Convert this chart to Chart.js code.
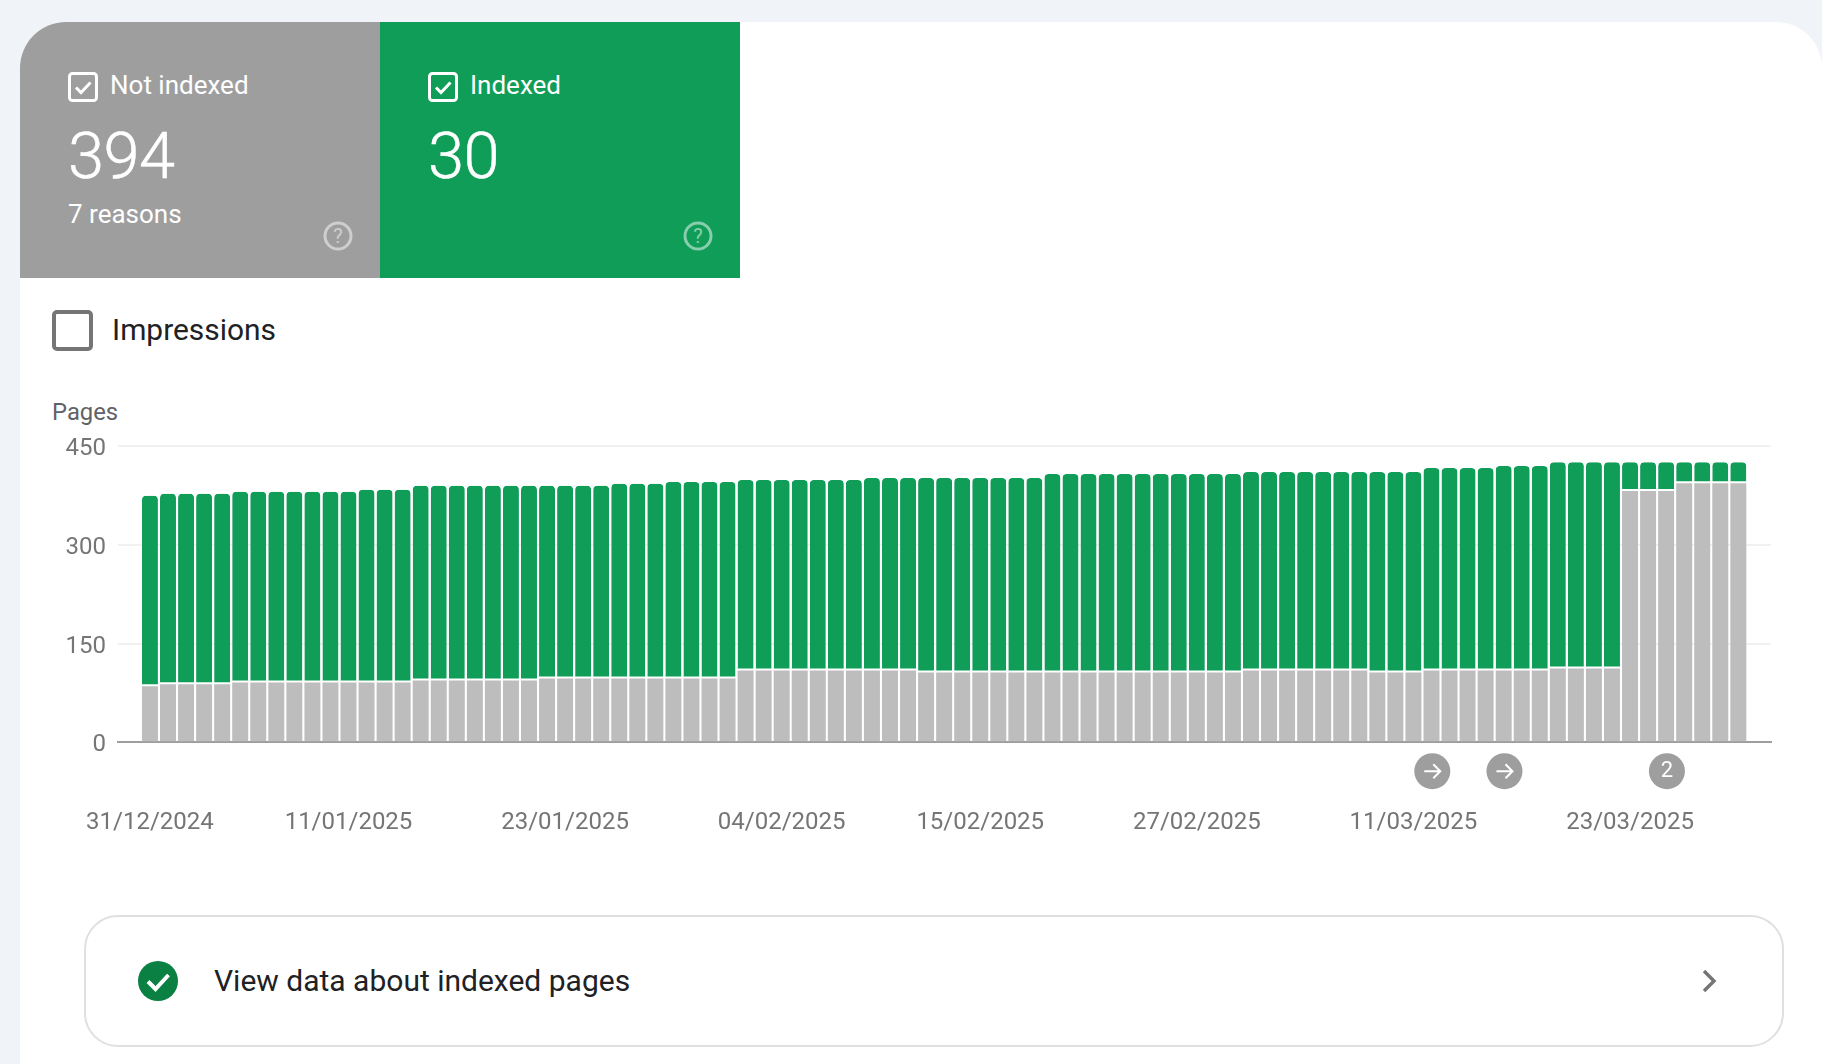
<!DOCTYPE html>
<html>
<head>
<meta charset="utf-8">
<title>Page indexing</title>
<script src="https://cdn.jsdelivr.net/npm/chart.js@4"></script>
<style>
  html, body { margin: 0; padding: 0; width: 1822px; height: 1064px; overflow: hidden; background: #f0f4f9; font-family: Roboto, sans-serif; }
  .sheet { position: absolute; left: 20px; top: 22px; width: 1802px; height: 1042px; background: #fff; border-radius: 46px 46px 0 0; overflow: hidden; }
  .tile { position: absolute; top: 22px; width: 360px; height: 256px; color: #fff; }
  .tile.grey { left: 20px; background: #9e9e9e; border-radius: 46px 0 0 0; }
  .tile.green { left: 380px; background: #0f9d58; }
  .tile svg { position: absolute; }
  .tile .box { left: 48px; top: 50px; }
  .tile .help { left: 303px; top: 199px; opacity: .5; }
  .tile .name { position: absolute; left: 90px; top: 48px; font-size: 26px; line-height: 30px; }
  .tile .num { position: absolute; left: 48px; top: 98px; font-size: 65px; line-height: 72px; font-weight: 300; letter-spacing: -.6px; -webkit-text-stroke: .5px #fff; }
  .tile .sub { position: absolute; left: 48px; top: 177px; font-size: 26px; line-height: 30px; }
  .impr-box { position: absolute; left: 52px; top: 310px; width: 33px; height: 33px; border: 4px solid #757575; border-radius: 5px; }
  .impr { position: absolute; left: 112px; top: 312px; font-size: 29.9px; line-height: 36px; color: #202124; }
  .pages { position: absolute; left: 52px; top: 397px; font-size: 23.8px; line-height: 30px; color: #5f6368; }
  .wrap { position: absolute; left: 20px; top: 420px; width: 1780px; height: 440px; }
  .link { position: absolute; left: 84px; top: 915px; width: 1696px; height: 128px; border: 2px solid #e0e0e0; border-radius: 34px; }
  .link .txt { position: absolute; left: 128px; top: 46px; font-size: 30px; line-height: 36px; color: #202124; }
  .link svg { position: absolute; }
</style>
</head>
<body>
<div class="sheet"></div>
<div class="tile grey">
  <svg class="box" width="30" height="30" viewBox="0 0 30 30"><rect x="1.5" y="1.5" width="27" height="27" rx="3" fill="none" stroke="#fff" stroke-width="3"/><path d="M8 15.5l5 5 9.5-10" fill="none" stroke="#fff" stroke-width="3"/></svg>
  <div class="name">Not indexed</div>
  <div class="num">394</div>
  <div class="sub">7 reasons</div>
  <svg class="help" width="30" height="30" viewBox="0 0 30 30"><circle cx="15" cy="15" r="13" fill="none" stroke="#fff" stroke-width="3"/><text x="15" y="22" text-anchor="middle" font-size="20" fill="#fff" font-family="Roboto">?</text></svg>
</div>
<div class="tile green">
  <svg class="box" width="30" height="30" viewBox="0 0 30 30"><rect x="1.5" y="1.5" width="27" height="27" rx="3" fill="none" stroke="#fff" stroke-width="3"/><path d="M8 15.5l5 5 9.5-10" fill="none" stroke="#fff" stroke-width="3"/></svg>
  <div class="name">Indexed</div>
  <div class="num">30</div>
  <svg class="help" width="30" height="30" viewBox="0 0 30 30"><circle cx="15" cy="15" r="13" fill="none" stroke="#fff" stroke-width="3"/><text x="15" y="22" text-anchor="middle" font-size="20" fill="#fff" font-family="Roboto">?</text></svg>
</div>
<div class="impr-box"></div>
<div class="impr">Impressions</div>
<div class="pages">Pages</div>
<div class="wrap"><canvas id="indexChart"></canvas></div>
<div class="link">
  <svg style="left:52px;top:44px" width="40" height="40" viewBox="0 0 40 40"><circle cx="20" cy="20" r="20" fill="#0b8043"/><path d="M10 20.5l7.5 7.5 13-14" fill="none" stroke="#fff" stroke-width="4"/></svg>
  <div class="txt">View data about indexed pages</div>
  <svg style="left:1612px;top:50px" width="24" height="28" viewBox="0 0 24 28"><path d="M6 4l10 10-10 10" fill="none" stroke="#757575" stroke-width="3.4"/></svg>
</div>
<script>
const notIndexed = [
  85, 88, 88, 88, 88, 91, 91, 91, 91, 91, 91, 91, 91, 91, 91,
  94, 94, 94, 94, 94, 94, 94, 97, 97, 97, 97, 97, 97, 97, 97, 97, 97, 97,
  109, 109, 109, 109, 109, 109, 109, 109, 109, 109,
  106, 106, 106, 106, 106, 106, 106, 106, 106, 106, 106, 106, 106, 106, 106, 106, 106, 106,
  109, 109, 109, 109, 109, 109, 109, 106, 106, 106,
  109, 109, 109, 109, 109, 109, 109, 112, 112, 112, 112,
  382, 382, 382, 394, 394, 394, 394,
];
const indexed = [
  290, 290, 290, 290, 290, 290, 290, 290, 290, 290, 290, 290, 293, 293, 293,
  296, 296, 296, 296, 296, 296, 296, 293, 293, 293, 293, 296, 296, 296, 299, 299, 299, 299,
  290, 290, 290, 290, 290, 290, 290, 293, 293, 293,
  296, 296, 296, 296, 296, 296, 296, 302, 302, 302, 302, 302, 302, 302, 302, 302, 302, 302,
  302, 302, 302, 302, 302, 302, 302, 305, 305, 305,
  308, 308, 308, 308, 311, 311, 311, 314, 314, 314, 314,
  44, 44, 44, 32, 32, 32, 32,
];
const dayIndexes = notIndexed.map((v, i) => i);
const yTicks = [0, 150, 300, 450];
const xTickDays = [0, 11, 23, 35, 46, 58, 70, 82];
const xTickLabels = ["31/12/2024", "11/01/2025", "23/01/2025", "04/02/2025", "15/02/2025", "27/02/2025", "11/03/2025", "23/03/2025"];
const markerDays = [71, 75, 84];
const markerLabels = ["arrow", "arrow", "2"];

// little round notes under the axis
const markers = {
  id: "markers",
  afterDraw(chart) {
    const ctx = chart.ctx;
    const y = chart.scales.y.getPixelForValue(0) + 29;
    markerDays.forEach((day, i) => {
      const x = chart.scales.x.getPixelForValue(day) + 0.8;
      ctx.save();
      ctx.fillStyle = "#9e9e9e";
      ctx.beginPath();
      ctx.arc(x, y, 18, 0, Math.PI * 2);
      ctx.fill();
      ctx.strokeStyle = "#fff";
      ctx.fillStyle = "#fff";
      ctx.lineWidth = 2;
      if (markerLabels[i] === "arrow") {
        ctx.beginPath();
        ctx.moveTo(x - 8, y);
        ctx.lineTo(x + 8, y);
        ctx.moveTo(x + 1, y - 7);
        ctx.lineTo(x + 8, y);
        ctx.lineTo(x + 1, y + 7);
        ctx.stroke();
      } else {
        ctx.font = "22px Roboto";
        ctx.textAlign = "center";
        ctx.textBaseline = "middle";
        ctx.fillText(markerLabels[i], x, y);
      }
      ctx.restore();
    });
  },
};

const ctx = document.getElementById("indexChart").getContext("2d");
const indexChart = new Chart(ctx, {
  type: "bar",
  data: {
    datasets: [
      {
        label: "Not indexed",
        data: notIndexed.map((v, i) => ({ x: dayIndexes[i], y: v })),
        backgroundColor: "#bdbdbd",
      },
      {
        label: "Indexed",
        data: indexed.map((v, i) => ({ x: dayIndexes[i], y: v })),
        backgroundColor: "#0f9d58",
        borderColor: "#fff",
        borderWidth: { top: 0, left: 0, right: 0, bottom: 2 },
        borderSkipped: false,
        borderRadius: { topLeft: 4, topRight: 4, bottomLeft: 0, bottomRight: 0 },
      },
    ],
  },
  options: {
    responsive: true,
    maintainAspectRatio: false,
    animation: false,
    barPercentage: 1,
    categoryPercentage: 0.885,
    layout: { padding: { top: 26.2, right: 29, left: 0, bottom: 0 } },
    scales: {
      x: {
        type: "linear",
        stacked: true,
        offset: false,
        min: -1.77,
        max: 89.81,
        afterBuildTicks(scale) {
          scale.ticks = xTickDays.map((d) => ({ value: d }));
        },
        afterFit(scale) {
          scale.height = 117.8;
        },
        ticks: {
          autoSkip: false,
          maxRotation: 0,
          padding: 58.5,
          color: "#757575",
          font: { family: "Roboto", size: 24 },
          callback: (value) => xTickLabels[xTickDays.indexOf(value)],
        },
        grid: { display: false },
        border: { color: "#9e9e9e", width: 2 },
      },
      y: {
        stacked: true,
        min: 0,
        max: 450,
        afterBuildTicks(scale) {
          scale.ticks = yTicks.map((v) => ({ value: v }));
        },
        afterFit(scale) {
          scale.width = 98;
        },
        ticks: {
          padding: 12,
          labelOffset: 3,
          color: "#757575",
          font: { family: "Roboto", size: 24 },
        },
        grid: { color: "#f1f1f1", lineWidth: 2, drawTicks: false },
        border: { display: false },
      },
    },
    plugins: {
      legend: { display: false },
      tooltip: { enabled: false },
    },
  },
  plugins: [markers],
});
</script>
</body>
</html>
